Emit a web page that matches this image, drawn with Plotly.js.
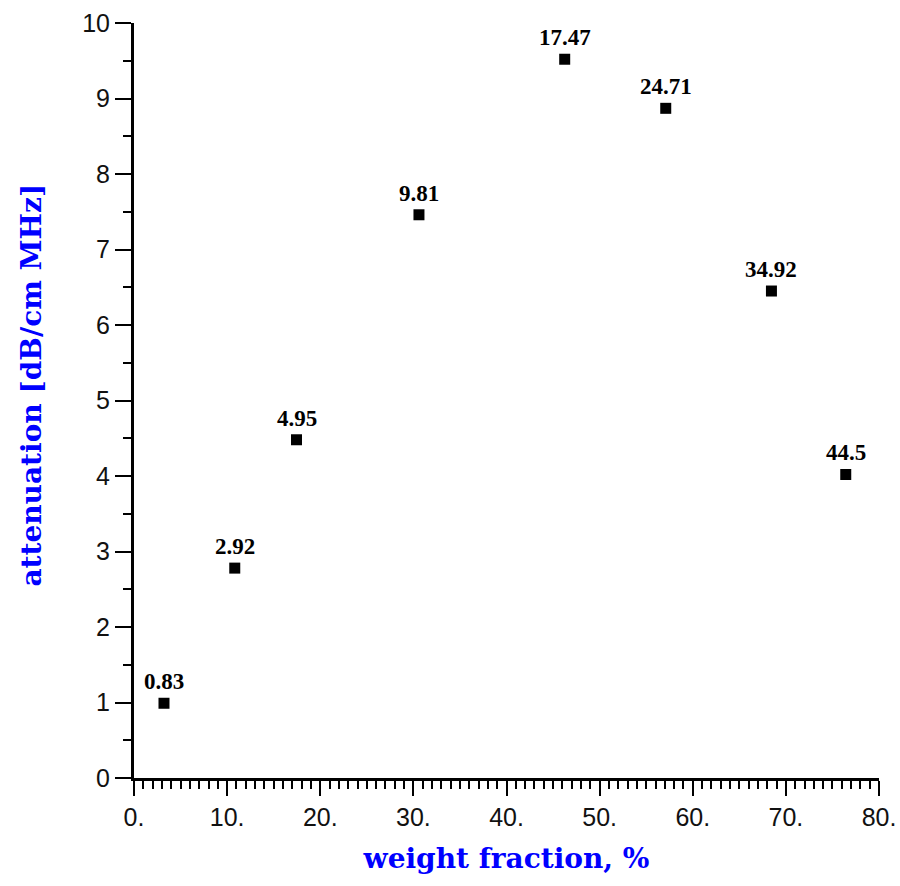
<!DOCTYPE html>
<html>
<head>
<meta charset="utf-8">
<script src="https://cdn.plot.ly/plotly-3.0.1.min.js"></script>
<style>
  html, body { margin: 0; padding: 0; background: #fff; }
  #chart { width: 900px; height: 886px; }
</style>
</head>
<body>
<div id="chart"></div>
<script>
// Attenuation versus weight fraction; each point is tagged with its volume fraction.
const weightFraction = [3.22, 10.82, 17.45, 30.6, 46.25, 57.1, 68.45, 76.43];
const attenuation = [0.99, 2.78, 4.48, 7.46, 9.52, 8.87, 6.45, 4.02];
const pointLabels = ['0.83', '2.92', '4.95', '9.81', '17.47', '24.71', '34.92', '44.5'];

const xTickVals = [0, 10, 20, 30, 40, 50, 60, 70, 80];
const xTickText = ['0.', '10.', '20.', '30.', '40.', '50.', '60.', '70.', '80.'];
const yTickVals = [0, 1, 2, 3, 4, 5, 6, 7, 8, 9, 10];

const titleFont = { family: 'DejaVu Serif', size: 28, color: '#0000ff', weight: 'bold' };
const tickFont = { family: 'Liberation Sans', size: 25, color: '#111' };

const trace = {
  type: 'scatter',
  mode: 'markers',
  x: weightFraction,
  y: attenuation,
  marker: { symbol: 'square', size: 11, color: '#000' },
  hoverinfo: 'x+y'
};

const annotations = weightFraction.map((x, i) => ({
  x: x,
  y: attenuation[i],
  xref: 'x',
  yref: 'y',
  text: pointLabels[i],
  showarrow: false,
  xanchor: 'center',
  yanchor: 'bottom',
  yshift: 7,
  font: { family: 'Liberation Serif', size: 23, color: '#000', weight: 'bold' }
}));

// Vertical axis title, drawn as a rotated annotation
annotations.push({
  xref: 'paper',
  yref: 'paper',
  x: -0.138,
  y: 0.52,
  xanchor: 'center',
  yanchor: 'middle',
  textangle: -90,
  text: 'attenuation [dB/cm MHz]',
  showarrow: false,
  font: titleFont
});

const axisCommon = {
  showgrid: false,
  zeroline: false,
  showline: true,
  linecolor: '#000',
  linewidth: 3,
  ticks: 'outside',
  ticklen: 16,
  tickwidth: 2,
  tickcolor: '#000',
  tickfont: tickFont,
  tickmode: 'array'
};

const layout = {
  width: 900,
  height: 886,
  margin: { l: 134, r: 21, t: 23, b: 108 },
  paper_bgcolor: '#fff',
  plot_bgcolor: '#fff',
  showlegend: false,
  xaxis: Object.assign({}, axisCommon, {
    range: [0, 80],
    tickvals: xTickVals,
    ticktext: xTickText,
    ticklen: 15,
    minor: { dtick: 1, ticks: 'outside', ticklen: 8, tickwidth: 2, tickcolor: '#000' },
    title: { text: 'weight fraction, %', font: titleFont, standoff: 19 }
  }),
  yaxis: Object.assign({}, axisCommon, {
    range: [0, 10],
    tickvals: yTickVals,
    ticksuffix: '  ',
    minor: { dtick: 0.5, ticks: 'outside', ticklen: 8, tickwidth: 2, tickcolor: '#000' }
  }),
  annotations: annotations
};

Plotly.newPlot('chart', [trace], layout, { displayModeBar: false, staticPlot: true });
</script>
</body>
</html>
